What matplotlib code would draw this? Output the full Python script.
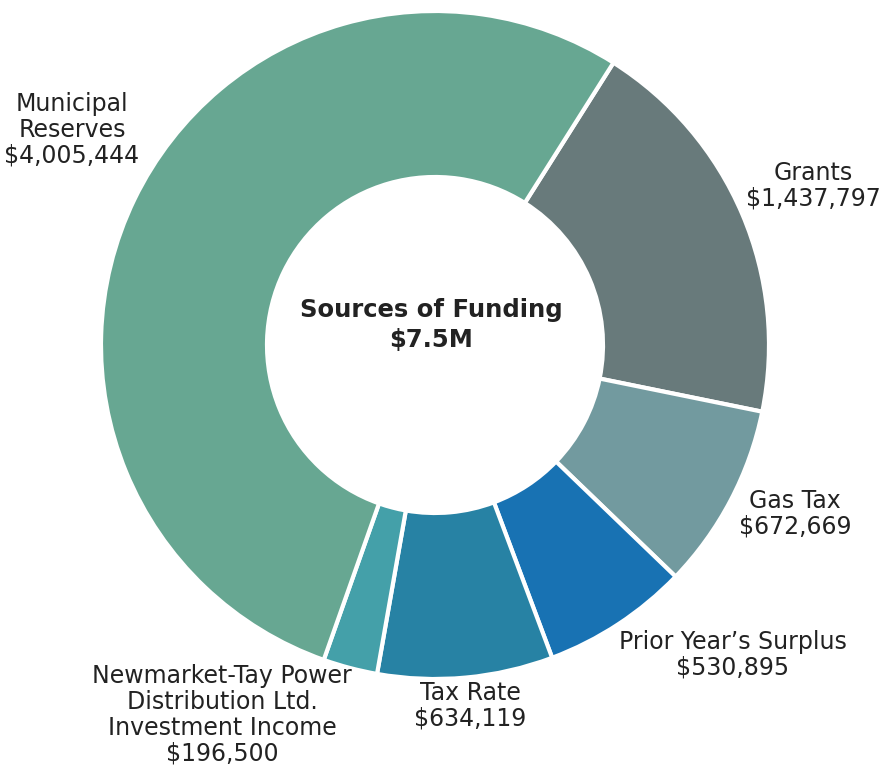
import matplotlib
matplotlib.use("Agg")
import matplotlib.pyplot as plt

categories = ["Grants", "Gas Tax", "Prior Year\u2019s Surplus", "Tax Rate",
              "Newmarket-Tay Power\nDistribution Ltd.\nInvestment Income",
              "Municipal\nReserves"]
values = [1437797, 672669, 530895, 634119, 196500, 4005444]
colors = ["#687a7b", "#729a9f", "#1872b3", "#2782a4", "#44a0a9", "#67a792"]
value_labels = ["$1,437,797", "$672,669", "$530,895", "$634,119", "$196,500", "$4,005,444"]
center_title = "Sources of Funding\n$7.5M"

W, H = 893, 768
fig = plt.figure(figsize=(W / 100, H / 100), dpi=100)
ax = fig.add_axes([0, 0, 1, 1])

cx, cy = 435, H - 345
R = 334
ax.pie(values, colors=colors, startangle=57.7, counterclock=False,
       center=(cx, cy), radius=R, frame=True,
       wedgeprops=dict(width=166, edgecolor="white", linewidth=3))
ax.set_xlim(0, W)
ax.set_ylim(0, H)
ax.axis("off")

label_pos = [(813, 186), (795, 514), (733, 655), (470, 706), (222, 715), (72, 130)]
for cat, val, (x, y) in zip(categories, value_labels, label_pos):
    ax.text(x, H - y, cat + "\n" + val, ha="center", va="center",
            fontsize=17, color="#222222", linespacing=1.1,
            family="DejaVu Sans")

ax.text(431, H - 325, center_title, ha="center", va="center", fontsize=17.5,
        fontweight="bold", color="#222222", linespacing=1.3)

fig.savefig("out.png", dpi=100)
